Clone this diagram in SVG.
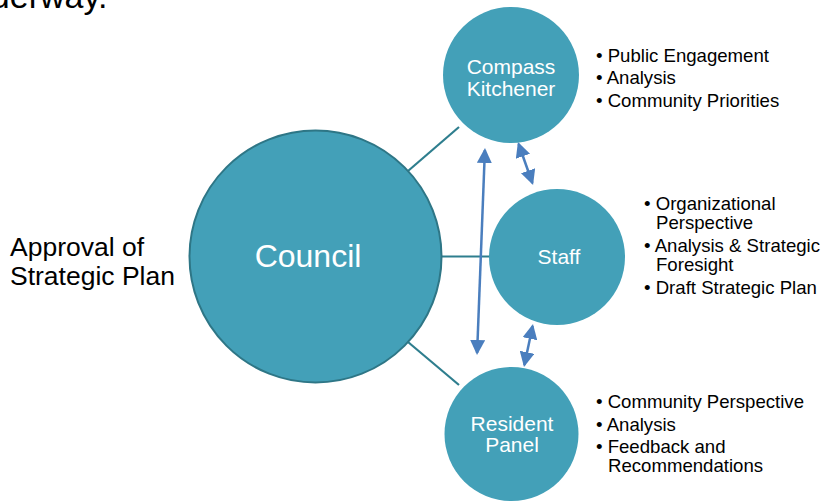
<svg xmlns="http://www.w3.org/2000/svg" width="821" height="501" viewBox="0 0 821 501">
<defs>
<style>
.node{fill:#43A0B8}
.council{fill:#43A0B8;stroke:#2E7686;stroke-width:2}
.lbl{font-family:"Liberation Sans",Arial,sans-serif;fill:#ffffff;text-anchor:middle}
.txt{font-family:"Liberation Sans",Arial,sans-serif;fill:#000000;font-size:18.6px}
.big{font-family:"Liberation Sans",Arial,sans-serif;fill:#000000;font-size:26.5px}
.conn{stroke:#2E7E8E;stroke-width:2.2;fill:none}
.arr{stroke:#4A7EBE;stroke-width:2.5;fill:none;marker-start:url(#ah);marker-end:url(#ah)}
</style>
<marker id="ah" viewBox="0 0 15 15" refX="13" refY="7.5" markerWidth="15" markerHeight="15" orient="auto-start-reverse" markerUnits="userSpaceOnUse">
<path d="M0,0 L15,7.5 L0,15 z" fill="#4A7EBE"/>
</marker>
</defs>
<rect width="821" height="501" fill="#ffffff"/>
<text x="-47" y="8" style="font-family:'Liberation Sans',Arial,sans-serif;font-size:34px;fill:#000">underway.</text>
<g id="connectors">
<line class="conn" x1="408" y1="171" x2="459" y2="127"/>
<line class="conn" x1="442" y1="256.5" x2="490" y2="256.5"/>
<line class="conn" x1="408" y1="342" x2="459" y2="385"/>
<line class="arr" x1="484.9" y1="150" x2="477.1" y2="353"/>
<line class="arr" x1="518.6" y1="144" x2="532.4" y2="183"/>
<line class="arr" x1="532.6" y1="326" x2="524.4" y2="365"/>
</g>
<g id="council">
<circle class="council" cx="315.5" cy="256.5" r="126"/>
<text class="lbl" x="308" y="267" font-size="32">Council</text>
</g>
<g id="compass">
<circle class="node" cx="511" cy="75" r="68"/>
<text class="lbl" x="511" y="74" font-size="21">Compass</text>
<text class="lbl" x="511" y="96" font-size="21">Kitchener</text>
</g>
<g id="staff">
<circle class="node" cx="557" cy="257" r="68"/>
<text class="lbl" x="559" y="264" font-size="21">Staff</text>
</g>
<g id="resident">
<circle class="node" cx="511.5" cy="434" r="67"/>
<text class="lbl" x="512" y="431" font-size="21">Resident</text>
<text class="lbl" x="512" y="452" font-size="21">Panel</text>
</g>
<g id="approval">
<text class="big" x="10" y="256">Approval of</text>
<text class="big" x="10" y="285">Strategic Plan</text>
</g>
<g id="compass-list">
<text class="txt" x="596" y="62">• Public Engagement</text>
<text class="txt" x="596" y="84">• Analysis</text>
<text class="txt" x="596" y="107">• Community Priorities</text>
</g>
<g id="staff-list">
<text class="txt" x="644" y="210">• Organizational</text>
<text class="txt" x="656" y="229">Perspective</text>
<text class="txt" x="644" y="252">• Analysis &amp; Strategic</text>
<text class="txt" x="656" y="271">Foresight</text>
<text class="txt" x="644" y="294">• Draft Strategic Plan</text>
</g>
<g id="resident-list">
<text class="txt" x="596" y="408">• Community Perspective</text>
<text class="txt" x="596" y="431">• Analysis</text>
<text class="txt" x="596" y="453">• Feedback and</text>
<text class="txt" x="608" y="472">Recommendations</text>
</g>
</svg>
